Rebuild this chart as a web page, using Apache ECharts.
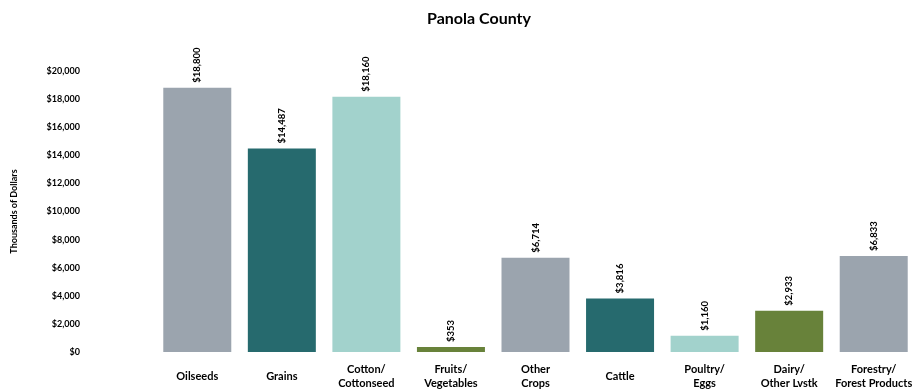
<!DOCTYPE html>
<html><head><meta charset="utf-8">
<script src="https://cdn.jsdelivr.net/npm/echarts@6/dist/echarts.min.js"></script>
<style>html,body{margin:0;padding:0;background:#fff}#c{width:916px;height:392px}</style>
</head><body><div id="c"></div>
<script>
const categories = ['Oilseeds','Grains','Cotton/\nCottonseed','Fruits/\nVegetables','Other\nCrops','Cattle','Poultry/\nEggs','Dairy/\nOther Lvstk','Forestry/\nForest Products'];
const values = [18800, 14487, 18160, 353, 6714, 3816, 1160, 2933, 6833];
const barColors = ['#9BA4AE','#266A6E','#A2D2CC','#68823A','#9BA4AE','#266A6E','#A2D2CC','#68823A','#9BA4AE'];
const yTicks = {min: 0, max: 20000, interval: 2000};
const fmt = v => '$' + v.toLocaleString('en-US');
const chart = echarts.init(document.getElementById('c'));
chart.setOption({
  animation: false,
  textStyle: {fontFamily: 'Lato'},
  title: {text: 'Panola County', left: 474, top: 6, textAlign: 'center',
    textStyle: {fontSize: 16, fontWeight: 'bold', color: '#000', fontFamily: 'Lato'}},
  grid: {left: 155, top: 71, width: 765, height: 281},
  xAxis: {type: 'category', data: categories,
    axisLine: {show: false}, axisTick: {show: false},
    axisLabel: {interval: 0, color: '#000', fontSize: 11, fontWeight: 'bold', lineHeight: 14, margin: 24, verticalAlign: 'middle'}},
  yAxis: {type: 'value', min: yTicks.min, max: yTicks.max, interval: yTicks.interval,
    name: 'Thousands of Dollars', nameLocation: 'middle', nameGap: 136, nameRotate: 90,
    nameTextStyle: {fontSize: 9, fontWeight: 'bold', color: '#000'},
    splitLine: {show: false}, axisLine: {show: false}, axisTick: {show: false},
    axisLabel: {formatter: fmt, color: '#000', fontSize: 9, fontWeight: 'bold', margin: 75}},
  series: [{type: 'bar', barWidth: 68,
    data: values.map((v, i) => ({value: v, itemStyle: {color: barColors[i]}})),
    label: {show: true, position: 'top', rotate: 90, align: 'left', verticalAlign: 'middle', distance: 5,
      formatter: p => fmt(p.value), fontSize: 9.5, fontWeight: 'bold', color: '#000'}}]
});
</script></body></html>
